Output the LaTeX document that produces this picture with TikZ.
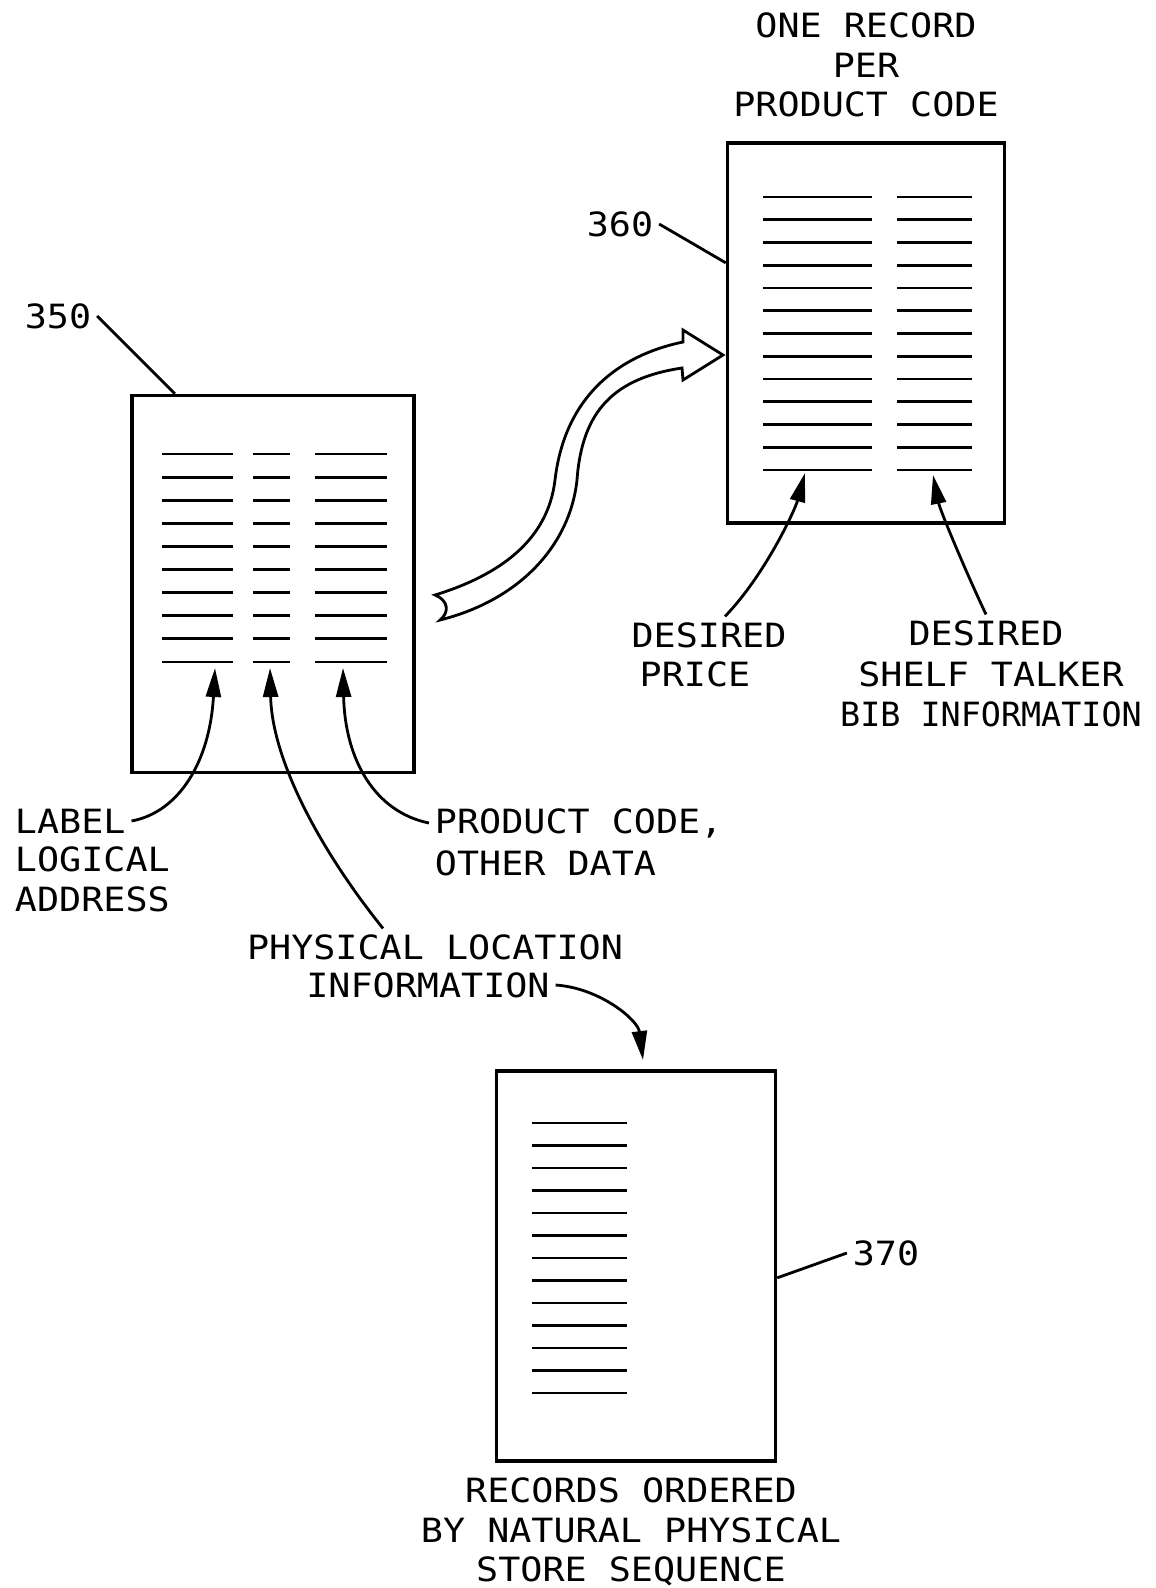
\documentclass[tikz,border=0pt]{standalone}
\usepackage{fontspec}
\setmainfont[FakeStretch=1.1]{DejaVu Sans Mono}
\newfontfamily\narrowmono{DejaVu Sans Mono}
\usetikzlibrary{arrows.meta, calc}

\begin{document}
\begin{tikzpicture}[x=0.1mm, y=-0.1mm,
  box/.style={draw, line width=1pt, minimum width=28.2mm, minimum height=37.7mm, inner sep=0pt},
  rec/.style={line width=0.8pt},
  txt/.style={font=\fontsize{9.5}{11.3}\selectfont, inner sep=1.5pt},
  lead/.style={line width=0.8pt},
  ptr/.style={line width=0.8pt, -{Triangle[length=2.9mm, width=1.5mm]}}]
  \useasboundingbox (0,0) rectangle (1156,1588);
  % three record files placed by absolute coordinates
  \node[box] (b350) at (273,584) {};
  \node[box, minimum width=27.7mm, minimum height=38mm] (b360) at (866,333) {};
  \node[box, minimum width=27.9mm, minimum height=39mm] (b370) at (636,1266) {};
  % record lines inside the files
  \foreach \i in {0,...,9} {
    \draw[rec] (162,454+23.1*\i) -- (233,454+23.1*\i);
    \draw[rec] (253,454+23.1*\i) -- (290,454+23.1*\i);
    \draw[rec] (315,454+23.1*\i) -- (387,454+23.1*\i);
  }
  \foreach \i in {0,...,12} {
    \draw[rec] (763,197+22.75*\i) -- (872,197+22.75*\i);
    \draw[rec] (897,197+22.75*\i) -- (972,197+22.75*\i);
    \draw[rec] (532,1123+22.5*\i) -- (627,1123+22.5*\i);
  }
  % hollow transfer arrow
  \draw[line width=0.8pt, fill=white] (435,595) .. controls (500,575) and (548,540) .. (555,480)
    .. controls (565,395) and (620,355) .. (683,342) -- (683,330) -- (723,355) -- (683,380) -- (682,368)
    .. controls (615,378) and (582,410) .. (577,480) .. controls (570,545) and (520,600) .. (440,620)
    .. controls (450,612) and (448,600) .. (435,595) -- cycle;
  % reference numbers and texts
  \node[txt] (n350) at (58,316) {350};
  \node[txt] (n360) at (620,224) {360};
  \node[txt] (n370) at (886,1253) {370};
  \node[txt, align=center] (hdr) at (866,65) {ONE RECORD\\PER\\PRODUCT CODE};
  \node[txt, anchor=west] (lab) at (9,821) {LABEL};
  \node[txt, anchor=west, align=left] (labsub) at (9,879) {LOGICAL\\ADDRESS};
  \node[txt, anchor=west] (prod) at (429,823) {PRODUCT CODE,};
  \node[txt, anchor=west] (prodsub) at (429,863) {OTHER DATA};
  \node[txt] (phys) at (435,947) {PHYSICAL LOCATION};
  \node[txt] (info) at (428,985) {INFORMATION};
  \node[txt] (dp) at (709,635) {DESIRED};
  \node[txt] (dpsub) at (695,674) {PRICE};
  \node[txt] (ds) at (986,633) {DESIRED};
  \node[txt, align=center] (dssub) at (991,694) {SHELF TALKER\\{\narrowmono BIB INFORMATION}};
  \node[txt, align=center] (seq) at (631,1532) {RECORDS ORDERED\\BY NATURAL PHYSICAL\\STORE SEQUENCE};
  % leader lines
  \draw[lead] (n350.east) -- ($(b350.north west)!0.156!(b350.north east)$);
  \draw[lead] (n360.east) -- ($(b360.north west)!0.317!(b360.south west)$);
  \draw[lead] (n370.west) -- ($(b370.north east)!0.53!(b370.south east)$);
  % arrow tips at the record columns
  \coordinate (tlab) at (215,668);
  \coordinate (tphy) at (270,668);
  \coordinate (tprd) at (343,668);
  \coordinate (tdp) at (805,473);
  \coordinate (tds) at (933,475);
  \coordinate (tinf) at (643,1060);
  \draw[ptr] (lab.east) .. controls (180,812) and (210,760) .. (tlab);
  \draw[ptr] ([xshift=-5.2mm]phys.north) .. controls (320,850) and (272,760) .. (tphy);
  \draw[ptr] (prod.west) .. controls (375,812) and (345,760) .. (tprd);
  \draw[ptr] ([xshift=1.6mm]dp.north) .. controls (765,575) and (795,510) .. (tdp);
  \draw[ptr] (ds.north) .. controls (965,570) and (940,510) .. (tds);
  \draw[ptr] (info.east) .. controls (600,988) and (638,1020) .. (tinf);
\end{tikzpicture}
\end{document}
